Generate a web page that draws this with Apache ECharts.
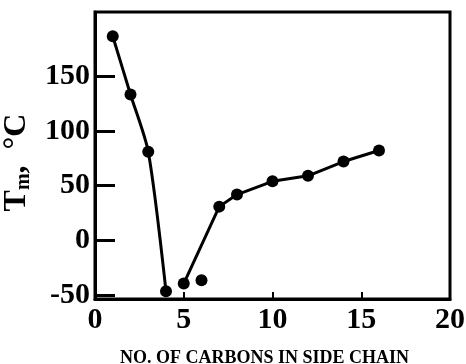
<!DOCTYPE html>
<html>
<head>
<meta charset="utf-8">
<script src="https://cdn.jsdelivr.net/npm/echarts@6/dist/echarts.min.js"></script>
<style>
  html, body { margin: 0; padding: 0; background: #fff; }
  #chartTm { width: 466px; height: 364px; }
</style>
</head>
<body>
<div id="chartTm"></div>
<script>
// side chain carbons vs melting point
var carbonsShort = [1, 2, 3, 4];
var tmShort = [186, 133, 81, -46];
var carbonsLong = [5, 7, 8, 10, 12, 14, 16];
var tmLong = [-39, 31, 42, 54, 59, 72, 82];
var carbonsLone = [6];
var tmLone = [-36];
var yTicks = [-50, 0, 50, 100, 150];

function pairs(xs, ys) {
	var out = [];
	for (var i = 0; i < xs.length; i++) {
		out.push([xs[i], ys[i]]);
	}
	return out;
}

var font = "'Liberation Serif', 'Times New Roman', serif";

var option = {
	animation : false,
	grid : {
		left : 95,
		right : 16,
		top : 12,
		bottom : 65,
		outerBoundsMode : 'none',
		show : true,
		borderColor : '#000',
		borderWidth : 3
	},
	xAxis : {
		type : 'value',
		min : 0,
		max : 20,
		interval : 5,
		name : 'NO. OF CARBONS IN SIDE CHAIN',
		nameLocation : 'middle',
		nameGap : 50,
		nameTextStyle : {
			fontFamily : font,
			fontWeight : 'bold',
			fontSize : 18,
			color : '#000',
			padding : [0, 16, 0, 0]
		},
		splitLine : { show : false },
		axisLine : { onZero : false, lineStyle : { color : '#000', width : 3 } },
		axisTick : { inside : true, length : 7, lineStyle : { color : '#000', width : 2 } },
		axisLabel : {
			margin : 6,
			fontFamily : font,
			fontWeight : 'bold',
			fontSize : 30,
			color : '#000'
		}
	},
	yAxis : {
		type : 'value',
		min : -53,
		max : 208,
		name : '{t|T}{s|m}{t|,  °C}',
		nameLocation : 'middle',
		nameRotate : 90,
		nameGap : 61,
		nameTextStyle : {
			padding : [0, 14, 0, 0],
			rich : {
				t : { fontFamily : font, fontWeight : 'bold', fontSize : 32, color : '#000' },
				s : { fontFamily : font, fontWeight : 'bold', fontSize : 20, color : '#000', padding : [14, 0, 0, 0] }
			}
		},
		splitLine : { show : false },
		axisLine : { onZero : false, lineStyle : { color : '#000', width : 3 } },
		axisTick : {
			inside : true,
			length : 20,
			customValues : yTicks,
			lineStyle : { color : '#000', width : 3 }
		},
		axisLabel : {
			margin : 5,
			customValues : yTicks,
			fontFamily : font,
			fontWeight : 'bold',
			fontSize : 30,
			color : '#000'
		}
	},
	series : [ {
		type : 'line',
		data : pairs(carbonsShort, tmShort),
		smooth : 0.25,
		symbol : 'circle',
		symbolSize : 12,
		lineStyle : { color : '#000', width : 3 },
		itemStyle : { color : '#000' }
	}, {
		type : 'line',
		data : pairs(carbonsLong, tmLong),
		symbol : 'circle',
		symbolSize : 12,
		lineStyle : { color : '#000', width : 3 },
		itemStyle : { color : '#000' }
	}, {
		type : 'scatter',
		data : pairs(carbonsLone, tmLone),
		symbol : 'circle',
		symbolSize : 12,
		itemStyle : { color : '#000', opacity : 1 }
	} ]
};

echarts.init(document.getElementById('chartTm')).setOption(option);
</script>
</body>
</html>
